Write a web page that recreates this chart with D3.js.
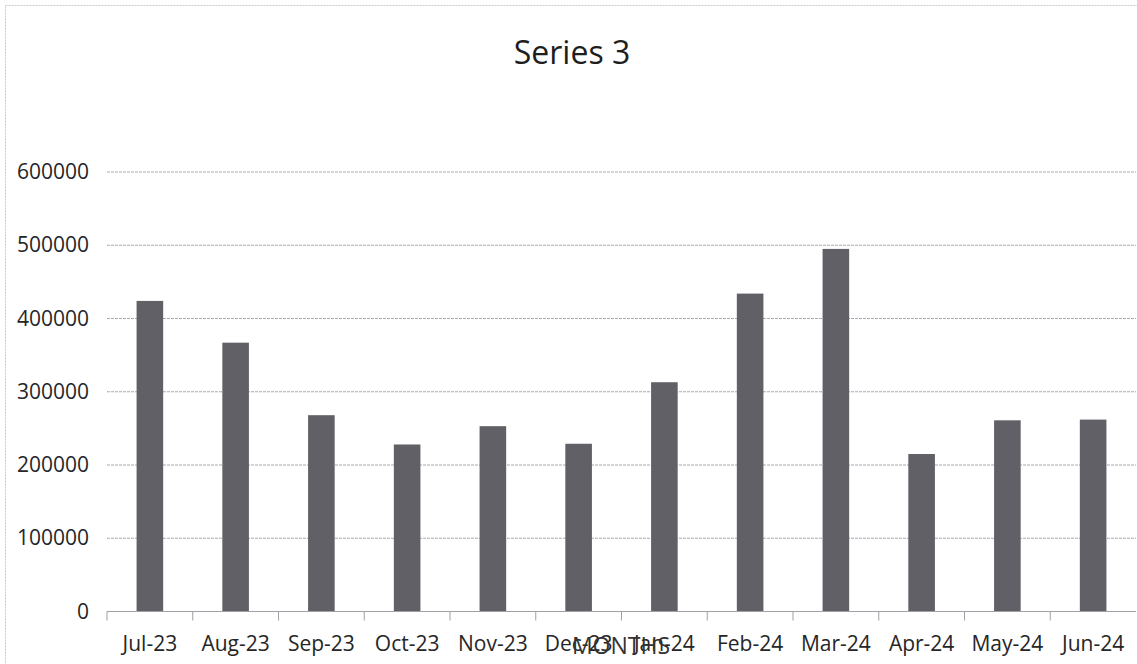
<!DOCTYPE html>
<html>
<head>
<meta charset="utf-8">
<script src="https://cdn.jsdelivr.net/npm/d3@7"></script>
<style>
  body { margin: 0; background: #fff; }
  svg { display: block; font-family: "Open Sans", sans-serif; }
</style>
</head>
<body>
<div id="chart"></div>
<script>
// ------------------------------------------------------------
// Data
// ------------------------------------------------------------
const months = ["Jul-23", "Aug-23", "Sep-23", "Oct-23", "Nov-23", "Dec-23",
                "Jan-24", "Feb-24", "Mar-24", "Apr-24", "May-24", "Jun-24"];
const series3 = [424000, 367000, 268000, 228000, 253000, 229000,
                 313000, 434000, 495000, 215000, 261000, 262000];
const yTicks = [0, 100000, 200000, 300000, 400000, 500000, 600000];

const width = 1137, height = 664;
const margin = { top: 172, right: 1, bottom: 52, left: 107 };

const svg = d3.select("#chart")
    .append("svg")
    .attr("width", width)
    .attr("height", height);

// chart frame (scanned border)
svg.append("rect")
    .attr("x", 5.5).attr("y", 5.5)
    .attr("width", width + 10).attr("height", height + 10)
    .attr("fill", "none")
    .attr("stroke", "#c8c8cc")
    .attr("stroke-dasharray", "2,1");

// scales
const x = d3.scaleBand()
    .domain(months)
    .range([margin.left, width - margin.right])
    .paddingInner(0.69)
    .paddingOuter(0.345);

const y = d3.scaleLinear()
    .domain([0, 600000])
    .range([height - margin.bottom - 0.5, margin.top]);

// gridlines
svg.append("g")
    .selectAll("line")
    .data(yTicks.filter(d => d > 0))
    .enter()
    .append("line")
    .attr("x1", margin.left)
    .attr("x2", width - margin.right)
    .attr("y1", d => y(d))
    .attr("y2", d => y(d))
    .attr("stroke", "#a9a9b0")
    .attr("stroke-width", 1)
    .attr("stroke-dasharray", "3,1");

// y axis labels
const yAxis = svg.append("g")
    .attr("transform", `translate(${margin.left},0)`)
    .call(d3.axisLeft(y).tickValues(yTicks).tickSize(0).tickPadding(18).tickFormat(d3.format("d")));
yAxis.select(".domain").remove();
yAxis.selectAll("text")
    .attr("font-size", "21px")
    .attr("fill", "#262626")
    .attr("font-family", "Open Sans, sans-serif");

// bars
svg.append("g")
    .selectAll("rect")
    .data(series3)
    .enter()
    .append("rect")
    .attr("x", (d, i) => x(months[i]))
    .attr("y", d => y(d))
    .attr("width", x.bandwidth())
    .attr("height", d => y(0) - y(d))
    .attr("fill", "#606066");

// x axis with ticks between categories
const x0 = y(0);
svg.append("line")
    .attr("x1", margin.left).attr("x2", width - margin.right)
    .attr("y1", x0).attr("y2", x0)
    .attr("stroke", "#a0a0a6");

svg.append("g")
    .selectAll("line")
    .data(months)
    .enter()
    .append("line")
    .attr("x1", d => x(d) - x.step() * x.paddingInner() / 2)
    .attr("x2", d => x(d) - x.step() * x.paddingInner() / 2)
    .attr("y1", x0)
    .attr("y2", x0 + 9)
    .attr("stroke", "#a0a0a6");

svg.append("g")
    .selectAll("text")
    .data(months)
    .enter()
    .append("text")
    .attr("x", d => x(d) + x.bandwidth() / 2)
    .attr("y", 651)
    .attr("text-anchor", "middle")
    .attr("font-size", "21px")
    .attr("fill", "#262626")
    .text(d => d);

// axis title (overlaps the Dec/Jan labels, as in the original)
svg.append("text")
    .attr("x", 621)
    .attr("y", 654)
    .attr("text-anchor", "middle")
    .attr("font-size", "23px")
    .attr("fill", "#333")
    .text("MONTHS");

// chart title
svg.append("text")
    .attr("x", 572)
    .attr("y", 64)
    .attr("text-anchor", "middle")
    .attr("font-size", "32px")
    .attr("fill", "#1e1e1e")
    .text("Series 3");
</script>
</body>
</html>
